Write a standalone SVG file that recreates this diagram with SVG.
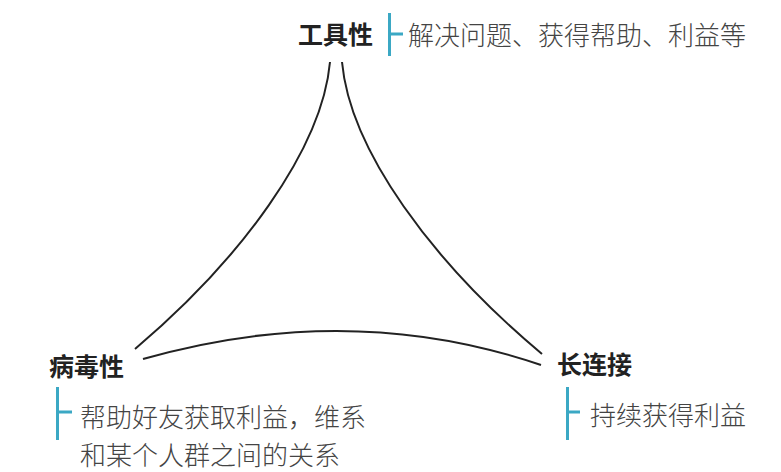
<svg xmlns="http://www.w3.org/2000/svg" width="781" height="472" viewBox="0 0 781 472">
<style>
.title{font-family:"Noto Sans CJK SC","Noto Sans",sans-serif;font-size:25px;font-weight:700;fill:#222}
.desc{font-family:"Noto Sans CJK SC","Noto Sans",sans-serif;font-size:26px;font-weight:300;fill:#444}
.bar{stroke:#3ba8c4;stroke-width:3;fill:none}
.edge{stroke:#222;stroke-width:2;fill:none}
</style>
<rect width="781" height="472" fill="#fff"/>
<g id="connectors">
<path class="edge" d="M330 62 C322 150 240 260 135 349"/>
<path class="edge" d="M342 62 C350 150 432 262 542 354"/>
<path class="edge" d="M143 359 Q350 300 541 365"/>
</g>
<g id="node-tool">
<text class="title" x="298" y="44">工具性</text>
<path class="bar" d="M389.5 13 V56 M389.5 34 H403"/>
<text class="desc" x="408" y="45">解决问题、获得帮助、利益等</text>
</g>
<g id="node-viral">
<text class="title" x="49" y="376">病毒性</text>
<path class="bar" d="M57.5 387 V440 M57.5 412 H72"/>
<text class="desc" x="80" y="427">帮助好友获取利益，维系</text>
<text class="desc" x="80" y="465">和某个人群之间的关系</text>
</g>
<g id="node-long">
<text class="title" x="557" y="374">长连接</text>
<path class="bar" d="M567.5 387 V440 M567.5 412 H580"/>
<text class="desc" x="590" y="425">持续获得利益</text>
</g>
</svg>
